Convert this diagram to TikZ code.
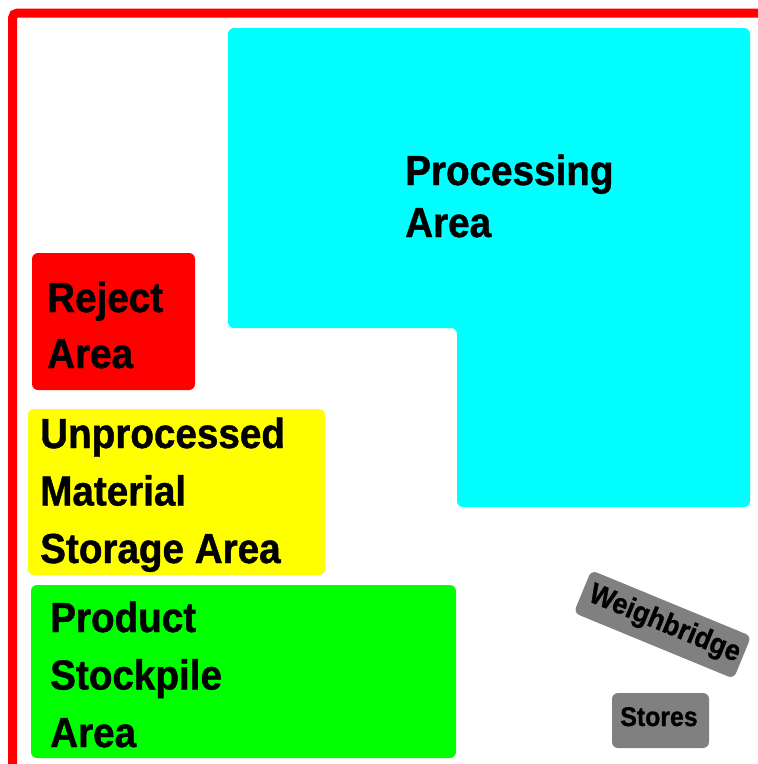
\documentclass[tikz,border=0pt]{standalone}
\usepackage{fontspec}
\newfontfamily\lbl[FakeStretch=0.92,BoldFont={* Bold},BoldFeatures={FakeBold=1}]{Liberation Sans}
\definecolor{procblue}{HTML}{00FFFF}
\definecolor{rejred}{HTML}{FF0000}
\definecolor{rawyellow}{HTML}{FFFF00}
\definecolor{prodgreen}{HTML}{00FF00}
\definecolor{siteline}{HTML}{FF0000}
\definecolor{smallgrey}{HTML}{808080}
\begin{document}
\begin{tikzpicture}[x=1pt,y=-1pt,
  zone/.style={rounded corners=6pt, inner sep=0pt, outer sep=0pt},
  % multi-line labels are placed by the baseline of their last line
  lab/.style={anchor=base west, inner sep=0pt, align=left,
    font=\lbl\bfseries\fontsize{42}{57.5}\selectfont},
  smalllab/.style={inner sep=0pt, text=black,
    font=\lbl\bfseries\fontsize{#1}{#1}\selectfont},
]
\useasboundingbox (0,0) rectangle (758,764);
\fill[white] (0,0) rectangle (758,764);

% site boundary
\draw[siteline, line width=9pt, rounded corners=5pt] (12.5,790) -- (12.5,13) -- (790,13);

% processing area (L-shaped)
\fill[procblue, rounded corners=6pt]
  (228,28) -- (750,28) -- (750,507) -- (457,507) -- (457,328) -- (228,328) -- cycle;
\node[lab, font=\lbl\bfseries\fontsize{42}{52}\selectfont] (proc) at (405,237) {Processing\\Area};

% reject area
\node[zone, fill=rejred, minimum width=163pt, minimum height=137pt] (reject) at (113.5,321.5) {};
\node[lab, font=\lbl\bfseries\fontsize{42}{56}\selectfont] (rejectlab) at (47,368) {Reject\\Area};

% unprocessed material storage
\node[zone, fill=rawyellow, minimum width=297pt, minimum height=166pt] (raw) at (176.5,492) {};
\node[lab] (rawlab) at (40,563) {Unprocessed\\Material\\Storage Area};

% product stockpile
\node[zone, fill=prodgreen, minimum width=425pt, minimum height=173pt] (prod) at (243.5,671.5) {};
\node[lab] (prodlab) at (50,747) {Product\\Stockpile\\Area};

% weighbridge (tilted) and stores
\node[zone, fill=smallgrey, minimum width=173pt, minimum height=46pt, rotate=-22.4] (wb) at (662.5,624.5) {};
\node[smalllab=29, rotate=-22.4] (wblab) at ([xshift=2pt]wb.center) {Weighbridge};
\node[zone, fill=smallgrey, minimum width=97pt, minimum height=55pt] (stores) at (660.5,720.5) {};
\node[smalllab=27, anchor=base] (storeslab) at (659,726) {Stores};
\end{tikzpicture}
\end{document}
